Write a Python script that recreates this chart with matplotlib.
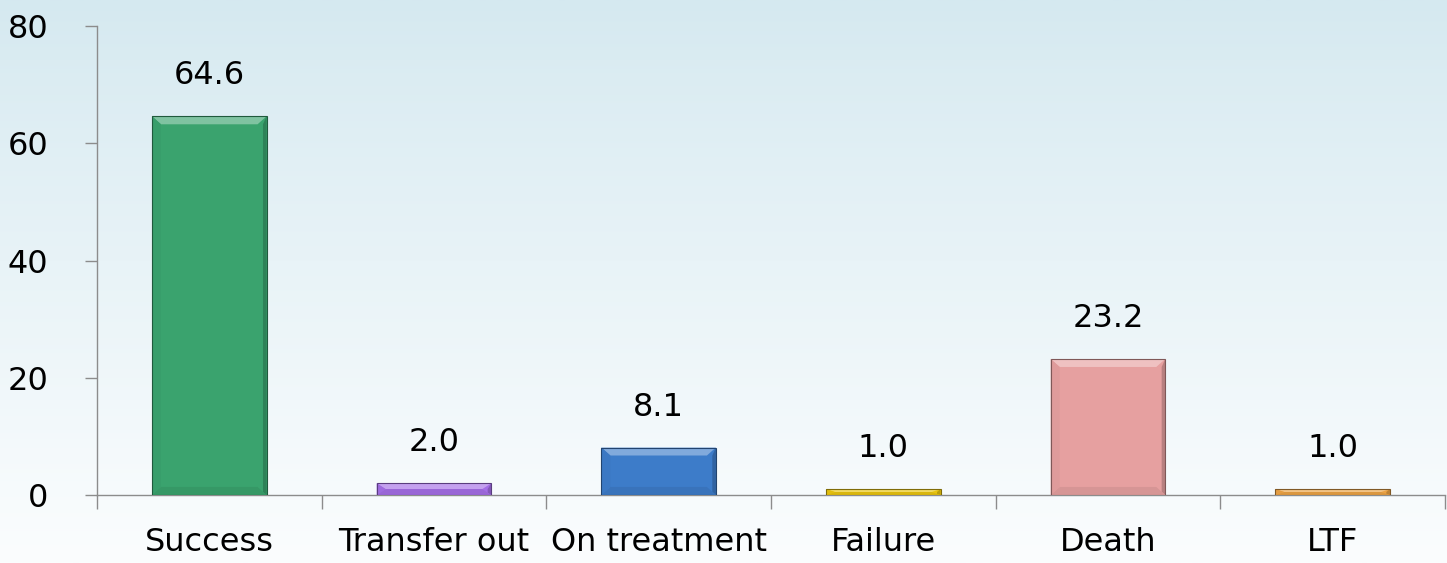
import matplotlib
matplotlib.use("Agg")
import matplotlib.pyplot as plt
import matplotlib.colors as mcolors
from matplotlib.patches import Polygon
import numpy as np

categories = ["Success", "Transfer out", "On treatment", "Failure", "Death", "LTF"]
values = [64.6, 2.0, 8.1, 1.0, 23.2, 1.0]
labels = ["64.6", "2.0", "8.1", "1.0", "23.2", "1.0"]
colors = ["#3aa36e", "#a46ee6", "#3d7cc9", "#e9c40f", "#e6a0a0", "#eba245"]
y_ticks = [0, 20, 40, 60, 80]

plt.rcParams['font.family'] = ['DejaVu Sans']

fig = plt.figure(figsize=(14.47, 5.63), dpi=100)

# background gradient
bg = fig.add_axes([0, 0, 1, 1], zorder=-10)
grad = np.linspace(0, 1, 256).reshape(-1, 1)
top = np.array(mcolors.to_rgb("#d5e9f0"))
bot = np.array(mcolors.to_rgb("#fbfdfe"))
img = top + (bot - top) * grad[..., None] ** 0.9
bg.imshow(img, aspect='auto', extent=[0, 1, 0, 1])
bg.axis('off')

ax = fig.add_axes([0.067, 0.1208, 0.9316, 0.833])
ax.set_facecolor('none')

x = np.arange(len(categories))
width = 0.51
bars = ax.bar(x, values, width=width, color=colors, edgecolor='none', zorder=3)

ax.set_xlim(-0.5, len(categories) - 0.5)
ax.set_ylim(0, 80)

# bevel effect
px_y = 80 / (0.833 * 563)
px_x = 6 / (0.9316 * 1447)
for b, c in zip(bars, colors):
    x0, x1 = b.get_x(), b.get_x() + b.get_width()
    y1 = b.get_height()
    bh = min(8 * px_y, y1 / 2)
    bw = min(9 * px_x, b.get_width() / 2)
    base = np.array(mcolors.to_rgb(c))
    light = base + (1 - base) * 0.35
    ax.add_patch(Polygon([(x0, y1), (x1, y1), (x1 - bw, y1 - bh), (x0 + bw, y1 - bh)],
                         closed=True, facecolor=light, edgecolor='none', zorder=4))
    ax.add_patch(Polygon([(x1, y1), (x1, 0), (x1 - 0.4 * bw, 0.4 * bh), (x1 - 0.4 * bw, y1 - bh)],
                         closed=True, facecolor=base * 0.8, edgecolor='none', zorder=4))
    ax.add_patch(Polygon([(x0, 0), (x1, 0), (x1 - bw, bh), (x0 + bw, bh)],
                         closed=True, facecolor=base * 0.93, edgecolor='none', zorder=4))
    ax.add_patch(Polygon([(x0, 0), (x0, y1), (x0 + bw, y1 - bh), (x0 + bw, bh)],
                         closed=True, facecolor=base * 0.97, edgecolor='none', zorder=4))
    ax.add_patch(Polygon([(x0, 0), (x0, y1), (x1, y1), (x1, 0)], closed=True,
                         facecolor='none', edgecolor=base * 0.55, linewidth=0.8, zorder=5))

for xi, v, lab in zip(x, values, labels):
    ax.annotate(lab, (xi, v), xytext=(0, 18), textcoords='offset points',
                ha='center', va='bottom', fontsize=23, color='black')

for s in ['top', 'right']:
    ax.spines[s].set_visible(False)
for s in ['left', 'bottom']:
    ax.spines[s].set_color('#8c8c8c')
    ax.spines[s].set_linewidth(1.0)

ax.set_yticks(y_ticks)
ax.set_yticklabels([str(t) for t in y_ticks], fontsize=23)
ax.tick_params(axis='y', length=9, width=1, color='#8c8c8c', pad=26)

ax.set_xticks(np.arange(len(categories) + 1) - 0.5)
ax.set_xticklabels([])
ax.tick_params(axis='x', which='major', length=10, width=1, color='#8c8c8c')
ax.set_xticks(x, minor=True)
ax.set_xticklabels(categories, minor=True, fontsize=23)
ax.tick_params(axis='x', which='minor', length=0, pad=23)

fig.savefig("out.png", dpi=100)
